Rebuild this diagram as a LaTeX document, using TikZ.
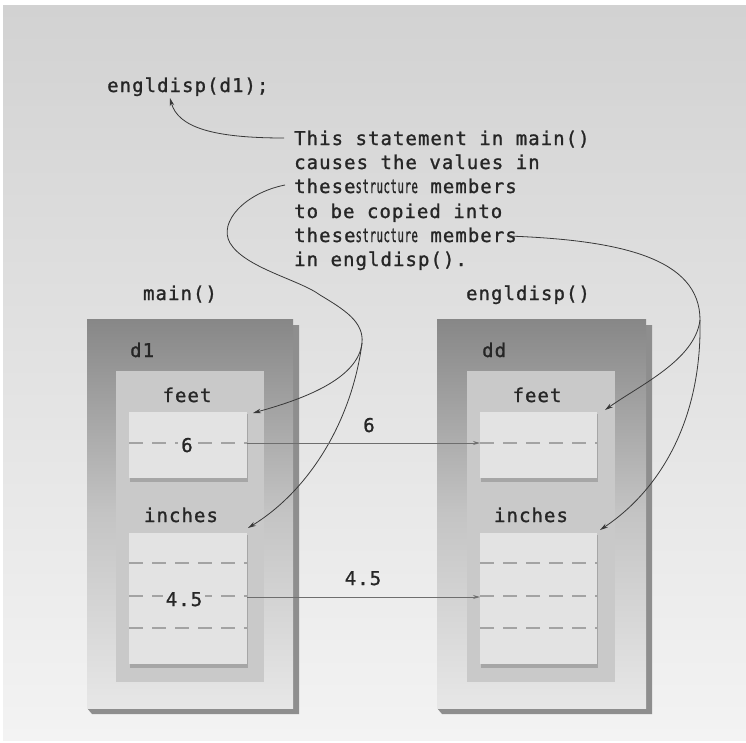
\documentclass[tikz,border=0pt]{standalone}
\usepackage{fontspec}
\usepackage{graphicx}
\usetikzlibrary{arrows.meta}
\newfontfamily\codefont[LetterSpace=5.5,FakeBold=1.2]{DejaVu Sans Mono}
\definecolor{bgtop}{HTML}{D2D2D2}
\definecolor{bgbot}{HTML}{F3F3F3}
\definecolor{outtop}{HTML}{878787}
\definecolor{outmid}{HTML}{C4C4C4}
\definecolor{outbot}{HTML}{E7E7E7}
\definecolor{shadowc}{HTML}{8E8E8E}
\definecolor{innerc}{HTML}{C9C9C9}
\definecolor{fieldc}{HTML}{E3E3E3}
\definecolor{fieldsh}{HTML}{A6A6A6}
\definecolor{dashc}{HTML}{A3A3A3}
\definecolor{txt}{HTML}{262626}
\definecolor{curvec}{HTML}{383838}
\definecolor{flowc}{HTML}{6E6E6E}
\newcommand{\squeezed}[1]{\scalebox{0.56}[1]{#1}}
\begin{document}
\begin{tikzpicture}[x=1pt,y=-1pt,
  lbl/.style={font=\codefont\fontsize{19}{21}\selectfont, text=txt, inner sep=0pt},
  outerbox/.style={top color=outtop, bottom color=outbot, middle color=outmid},
  shadowbox/.style={fill=shadowc},
  innerbox/.style={fill=innerc},
  fieldbox/.style={fill=fieldc},
  fieldshadow/.style={fill=fieldsh},
  dashline/.style={draw=dashc, line width=1.1pt, dash pattern=on 14pt off 9pt},
  callout/.style={draw=curvec, line width=0.8pt, -{Stealth[length=8pt,width=4.5pt]}},
  flow/.style={draw=flowc, line width=0.9pt, -{Stealth[length=7pt,width=4pt]}}
]
\useasboundingbox (0,0) rectangle (746,742);
\fill[white] (0,0) rectangle (746,742);
\shade[top color=bgtop, bottom color=bgbot] (3,5) rectangle (746,740);

% ---------- left frame: main() ----------
\fill[shadowbox] (91,325) -- (299,325) -- (299,714) -- (92,714) -- (87,708) -- cycle;
\shade[outerbox] (87,319) rectangle (293,708);
\fill[innerbox] (116,371) rectangle (264,682);
\fill[fieldshadow] (130,414) rectangle (248,482);
\fill[fieldbox] (129,412) rectangle (247,478);
\fill[fieldshadow] (130,535) rectangle (248,668);
\fill[fieldbox] (129,533) rectangle (247,664);
\draw[dashline] (129,443) -- (247,443);
\draw[dashline] (129,563) -- (247,563);
\draw[dashline] (129,596) -- (247,596);
\draw[dashline] (129,628) -- (247,628);

% ---------- right frame: engldisp() ----------
\fill[shadowbox] (441,325) -- (652,325) -- (652,714) -- (442,714) -- (437,708) -- cycle;
\shade[outerbox] (437,319) rectangle (646,708);
\fill[innerbox] (467,371) rectangle (615,682);
\fill[fieldshadow] (481,414) rectangle (598,482);
\fill[fieldbox] (480,412) rectangle (597,478);
\fill[fieldshadow] (481,535) rectangle (598,668);
\fill[fieldbox] (480,533) rectangle (597,664);
\draw[dashline] (480,443) -- (597,443);
\draw[dashline] (480,563) -- (597,563);
\draw[dashline] (480,596) -- (597,596);
\draw[dashline] (480,628) -- (597,628);

% ---------- texts ----------
\node[lbl, anchor=base west] (call) at (107,92) {engldisp(d1);};
\node[lbl, anchor=base west] (l1) at (294,145) {This statement in main()};
\node[lbl, anchor=base west] (l2) at (294,169) {causes the values in};
\node[lbl, anchor=base west] (l3) at (294,193) {these\squeezed{structure} members};
\node[lbl, anchor=base west] (l4) at (294,218) {to be copied into};
\node[lbl, anchor=base west] (l5) at (294,242) {these\squeezed{structure} members};
\node[lbl, anchor=base west] (l6) at (294,266) {in engldisp().};

\node[lbl, anchor=base] (mainlbl) at (180,300) {main()};
\node[lbl, anchor=base] (englbl) at (528,300) {engldisp()};
\node[lbl, anchor=base west] (d1) at (130,357) {d1};
\node[lbl, anchor=base west] (dd) at (482,357) {dd};
\node[lbl, anchor=base] (feetL) at (187,402) {feet};
\node[lbl, anchor=base] (feetR) at (537,402) {feet};
\node[lbl, anchor=base] (inchL) at (181,522) {inches};
\node[lbl, anchor=base] (inchR) at (531,522) {inches};
\node[lbl, anchor=base, fill=fieldc, inner xsep=3pt] (v6) at (187,452) {6};
\node[lbl, anchor=base, fill=fieldc, inner xsep=3pt] (v45) at (184,606) {4.5};
\node[lbl, anchor=base] (a6) at (369,432) {6};
\node[lbl, anchor=base] (a45) at (363,585) {4.5};

% ---------- connector end points ----------
\coordinate (callpt) at (170,98);
\coordinate (l1pt) at (284,138);
\coordinate (l3pt) at (285,185);
\coordinate (l5pt) at (508,236);
\coordinate (bendL) at (362,343);
\coordinate (bendR) at (700,320);
\coordinate (feetLin) at (253,413);
\coordinate (inchLin) at (248,528);
\coordinate (feetRin) at (605,410);
\coordinate (inchRin) at (600,530);
\coordinate (srcF) at (247,443);
\coordinate (dstF) at (480,443);
\coordinate (srcI) at (247,597);
\coordinate (dstI) at (480,597);

% ---------- connectors ----------
\draw[callout] (l1pt) .. controls (215,138) and (178,128) .. (callpt);
\draw[draw=curvec, line width=0.8pt] (l3pt) .. controls (245,193) and (218,222) .. (230,243)
   .. controls (245,268) and (300,280) .. (320,295)
   .. controls (345,310) and (364,322) .. (bendL);
\draw[callout] (bendL) .. controls (358,380) and (300,400) .. (feetLin);
\draw[callout] (bendL) .. controls (352,420) and (310,490) .. (inchLin);
\draw[draw=curvec, line width=0.8pt] (l5pt) .. controls (620,240) and (700,258) .. (bendR);
\draw[callout] (bendR) .. controls (695,360) and (640,385) .. (feetRin);
\draw[callout] (bendR) .. controls (702,420) and (660,490) .. (inchRin);

\draw[flow] (srcF) -- (dstF);
\draw[flow] (srcI) -- (dstI);
\end{tikzpicture}
\end{document}
